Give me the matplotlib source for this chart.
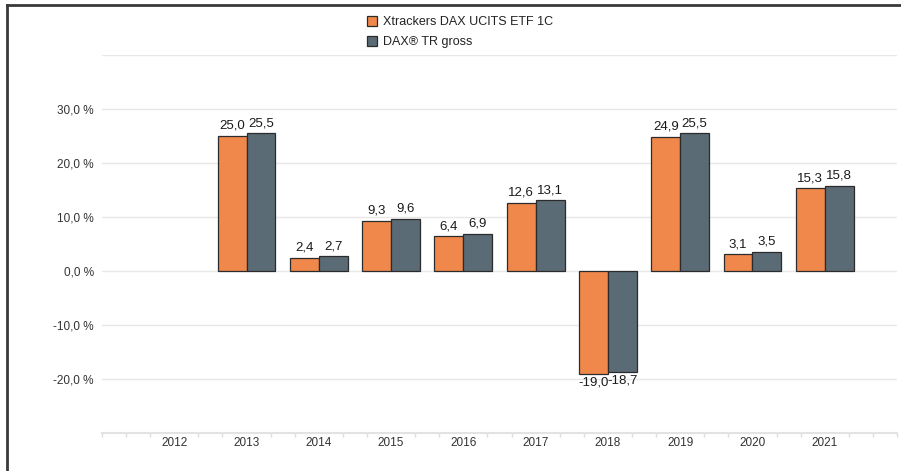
import numpy as np
import matplotlib
matplotlib.use("Agg")
import matplotlib.pyplot as plt
from matplotlib.patches import Patch
from matplotlib.lines import Line2D

plt.rcParams['font.family'] = ['Liberation Sans', 'DejaVu Sans']

years = [2012, 2013, 2014, 2015, 2016, 2017, 2018, 2019, 2020, 2021]
etf = [np.nan, 25.0, 2.4, 9.3, 6.4, 12.6, -19.0, 24.9, 3.1, 15.3]
index = [np.nan, 25.5, 2.7, 9.6, 6.9, 13.1, -18.7, 25.5, 3.5, 15.8]
series_names = ['Xtrackers DAX UCITS ETF 1C', 'DAX® TR gross']
y_ticks = [-20, -10, 0, 10, 20, 30]

ORANGE = '#f0884b'
GREY = '#5b6b76'
EDGE = '#2b2b2b'
TEXT = '#333333'


def fmt(v):
    return f'{v:.1f}'.replace('.', ',')


fig = plt.figure(figsize=(9.01, 4.71), dpi=100)
ax = fig.add_axes([0.1132, 0.0807, 0.8824, 0.8025])

x = np.array(years, dtype=float)
w = 0.4
ax.bar(x - w / 2, etf, w, color=ORANGE, edgecolor=EDGE, linewidth=0.9, zorder=3)
ax.bar(x + w / 2, index, w, color=GREY, edgecolor=EDGE, linewidth=0.9, zorder=3)

for xs, vals in ((x - w / 2, etf), (x + w / 2, index)):
    for xi, v in zip(xs, vals):
        if np.isnan(v):
            continue
        if v >= 0:
            ax.annotate(fmt(v), (xi, v), xytext=(0, 3), textcoords='offset points',
                        ha='center', va='bottom', fontsize=9.5, color='#1a1a1a')
        else:
            ax.annotate(fmt(v), (xi, v), xytext=(0, -2), textcoords='offset points',
                        ha='center', va='top', fontsize=9.5, color='#1a1a1a')

ax.set_xlim(2011, 2022)
ax.set_ylim(-30, 40)

ax.set_yticks(y_ticks)
ax.set_yticklabels([fmt(t) + ' %' for t in y_ticks], fontsize=8.5, color=TEXT)
for g in y_ticks + [40]:
    ax.axhline(g, color='#e8e8e8', linewidth=1, zorder=1)

ax.set_xticks(years)
ax.set_xticklabels([str(y) for y in years], fontsize=8.5, color=TEXT)
minor = [2011 + i / 3 for i in range(34) if i % 3 != 0 or i in (0, 33)]
ax.set_xticks(minor, minor=True)
ax.tick_params(axis='x', which='major', length=0, pad=3)
ax.tick_params(axis='x', which='minor', length=3, color='#dddddd', width=1)
ax.tick_params(axis='y', length=0, pad=6)

for s in ('top', 'right', 'left'):
    ax.spines[s].set_visible(False)
ax.spines['bottom'].set_color('#e3e3e3')
ax.spines['bottom'].set_linewidth(1.5)

handles = [Patch(facecolor=ORANGE, edgecolor=EDGE, linewidth=0.9),
           Patch(facecolor=GREY, edgecolor=EDGE, linewidth=0.9)]
fig.legend(handles, series_names, loc='upper left', bbox_to_anchor=(0.395, 0.99),
           frameon=False, fontsize=9, handlelength=0.8, handleheight=0.8,
           handletextpad=0.5, labelspacing=0.65, labelcolor='#222222')

# frame lines at the top and left edge of the picture
fig.add_artist(Line2D([0.0078, 1.0], [0.989, 0.989], color='#3a3a3a', linewidth=2))
fig.add_artist(Line2D([0.0078, 0.0078], [0.0, 0.989], color='#3a3a3a', linewidth=2))

fig.savefig('out.png', dpi=100)
